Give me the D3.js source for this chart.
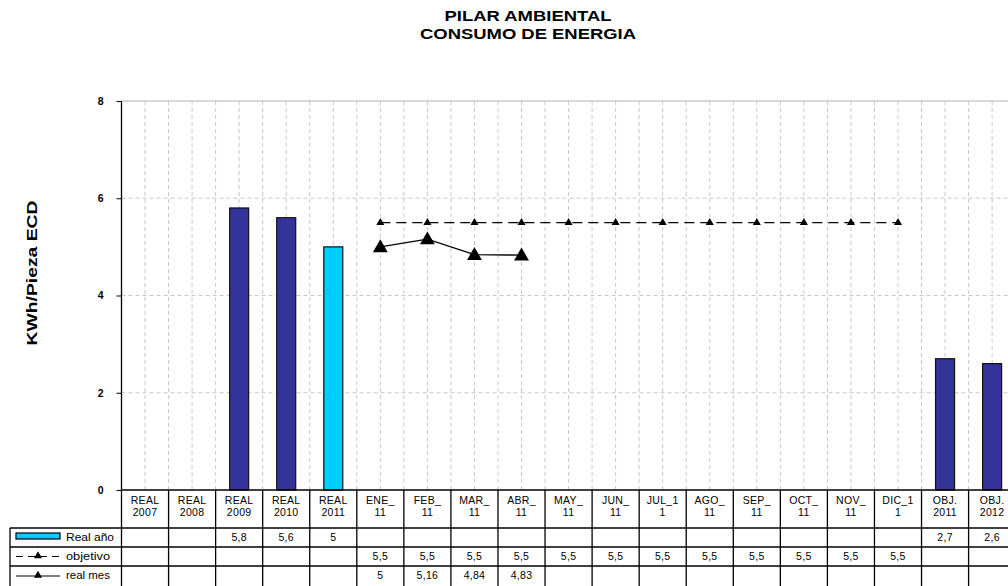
<!DOCTYPE html>
<html><head><meta charset="utf-8">
<script src="https://cdn.jsdelivr.net/npm/d3@7"></script>
<style>body{margin:0;background:#fff;} svg{display:block;font-family:"Liberation Sans",Arial,sans-serif;}</style>
</head><body>
<svg id="c" width="1008" height="586"></svg>
<script>
const categories = ["REAL 2007","REAL 2008","REAL 2009","REAL 2010","REAL 2011","ENE_ 11","FEB_ 11","MAR_ 11","ABR_ 11","MAY_ 11","JUN_ 11","JUL_1 1","AGO_ 11","SEP_ 11","OCT_ 11","NOV_ 11","DIC_1 1","OBJ. 2011","OBJ. 2012"];
const realAnio = [null,null,5.8,5.6,5,null,null,null,null,null,null,null,null,null,null,null,null,2.7,2.6];
const objetivo = [null,null,null,null,null,5.5,5.5,5.5,5.5,5.5,5.5,5.5,5.5,5.5,5.5,5.5,5.5,null,null];
const realMes = [null,null,null,null,null,5,5.16,4.84,4.83,null,null,null,null,null,null,null,null,null,null];
const yTicks = [0,2,4,6,8];
const title = ["PILAR AMBIENTAL","CONSUMO DE ENERGIA"];
const yLabel = "KWh/Pieza ECD";
const seriesNames = ["Real año","objetivo","real mes"];

const svg = d3.select("#c");
const L = 121.5, colW = 47.06, T = 101, B = 490;
const x = d3.scaleBand().domain(categories).range([L, L + colW*categories.length]).padding(0);
const y = d3.scaleLinear().domain([0,8]).range([B, T]);
const fmt = v => (v==null?"":String(+v.toFixed(2)).replace(".",","));
const barFill = i => categories[i]==="REAL 2011" ? "#00CCFF" : "#333399";

// title
const titleLen = [167, 216];
svg.selectAll("text.title").data(title).join("text").attr("class","title")
  .attr("x",528).attr("y",(d,i)=>21+i*18).attr("text-anchor","middle")
  .attr("font-size",14).attr("font-weight","bold")
  .attr("textLength",(d,i)=>titleLen[i]).attr("lengthAdjust","spacingAndGlyphs").text(d=>d);

// gridlines
const grid = svg.append("g");
grid.selectAll("line.h").data(yTicks.filter(d=>d>0&&d<8)).join("line")
  .attr("x1",L).attr("x2",1008).attr("y1",d=>y(d)).attr("y2",d=>y(d))
  .attr("stroke","#c8c8c8").attr("stroke-dasharray","4,3");
grid.append("line").attr("x1",L).attr("x2",1008).attr("y1",y(8)).attr("y2",y(8)).attr("stroke","#b0b0b0");
const vlines = [];
categories.forEach((c,i)=>{ vlines.push(x(c)+x.bandwidth()/2); if(i>0) vlines.push(x(c)); });
grid.selectAll("line.v").data(vlines).join("line")
  .attr("x1",d=>d).attr("x2",d=>d).attr("y1",T).attr("y2",B)
  .attr("stroke","#c8c8c8").attr("stroke-dasharray","4,3");

// bars
const bw = 19;
svg.append("g").selectAll("rect").data(realAnio.map((v,i)=>({v,i})).filter(d=>d.v!=null)).join("rect")
  .attr("x",d=>x(categories[d.i])+x.bandwidth()/2-bw/2).attr("width",bw)
  .attr("y",d=>y(d.v)).attr("height",d=>y(0)-y(d.v))
  .attr("fill",d=>barFill(d.i)).attr("stroke","#111").attr("stroke-width",1.2);

// lines
const cx = i => x(categories[i]) + x.bandwidth()/2;
const objPts = objetivo.map((v,i)=>({v,i})).filter(d=>d.v!=null);
const mesPts = realMes.map((v,i)=>({v,i})).filter(d=>d.v!=null);
const line = d3.line().x(d=>cx(d.i)).y(d=>y(d.v));
svg.append("path").attr("d",line(objPts)).attr("fill","none").attr("stroke","#000").attr("stroke-width",1.3).attr("stroke-dasharray","10,6");
svg.append("path").attr("d",line(mesPts)).attr("fill","none").attr("stroke","#000").attr("stroke-width",1.3);
const tri = d3.symbol().type(d3.symbolTriangle);
svg.append("g").selectAll("path").data(objPts).join("path")
  .attr("transform",d=>`translate(${cx(d.i)},${y(d.v)})`).attr("d",tri.size(28)()).attr("fill","#000");
svg.append("g").selectAll("path").data(mesPts).join("path")
  .attr("transform",d=>`translate(${cx(d.i)},${y(d.v)+1})`).attr("d",d3.symbol().type(d3.symbolTriangle).size(95)()).attr("fill","#000");

// y axis
const ax = svg.append("g").attr("transform",`translate(${L},0)`)
  .call(d3.axisLeft(y).tickValues(yTicks).tickSize(5).tickPadding(13));
ax.select(".domain").remove();
ax.selectAll("line").attr("stroke","#000");
ax.selectAll("text").attr("font-size",10.5).attr("font-weight","bold").attr("font-family","Liberation Sans, Arial, sans-serif");
svg.append("line").attr("x1",L).attr("x2",L).attr("y1",T).attr("y2",528).attr("stroke","#000").attr("stroke-width",1.3);
svg.append("text").attr("transform","translate(37,273) rotate(-90)").attr("text-anchor","middle")
  .attr("font-size",15).attr("font-weight","bold")
  .attr("textLength",145).attr("lengthAdjust","spacingAndGlyphs").text(yLabel);

// data table
const tb = svg.append("g");
const rowY = [490,528,547,566,586];
const R = 1008;
tb.append("line").attr("x1",L).attr("x2",R).attr("y1",490).attr("y2",490).attr("stroke","#000").attr("stroke-width",1.3);
[528,547,566].forEach(yy=>tb.append("line").attr("x1",10).attr("x2",R).attr("y1",yy).attr("y2",yy).attr("stroke","#000").attr("stroke-width",1.3));
tb.append("line").attr("x1",10).attr("x2",10).attr("y1",528).attr("y2",586).attr("stroke","#000").attr("stroke-width",1.3);
categories.forEach((c,i)=>{ if(i>0) tb.append("line").attr("x1",x(c)).attr("x2",x(c)).attr("y1",490).attr("y2",586).attr("stroke","#000").attr("stroke-width",1.3); });
tb.append("line").attr("x1",L).attr("x2",L).attr("y1",528).attr("y2",586).attr("stroke","#000").attr("stroke-width",1.3);
categories.forEach(c=>{
  const parts = c.split(" ");
  parts.forEach((p,j)=>tb.append("text").attr("x",x(c)+x.bandwidth()/2).attr("y",504+j*12)
    .attr("text-anchor","middle").attr("font-size",10.5).attr("letter-spacing",0.3).text(p));
});
const rows = [realAnio,objetivo,realMes];
rows.forEach((arr,r)=>{
  arr.forEach((v,i)=>{ if(v!=null) tb.append("text").attr("x",cx(i)).attr("y",rowY[r+1]+13)
    .attr("text-anchor","middle").attr("font-size",10.5).attr("letter-spacing",0.3).text(fmt(v)); });
});
tb.append("rect").attr("x",16).attr("y",533).attr("width",44).attr("height",6).attr("fill","#00CCFF").attr("stroke","#000").attr("stroke-width",1.2);
tb.append("line").attr("x1",16).attr("x2",60).attr("y1",556.5).attr("y2",556.5).attr("stroke","#000").attr("stroke-width",1.2).attr("stroke-dasharray","7,5");
tb.append("path").attr("transform","translate(38,556)").attr("d",d3.symbol().type(d3.symbolTriangle).size(28)()).attr("fill","#000");
tb.append("line").attr("x1",16).attr("x2",60).attr("y1",576).attr("y2",576).attr("stroke","#000").attr("stroke-width",1.2);
tb.append("path").attr("transform","translate(38,575.5)").attr("d",d3.symbol().type(d3.symbolTriangle).size(28)()).attr("fill","#000");
const legLen = [48, 44, 44];
seriesNames.forEach((s,i)=>tb.append("text").attr("x",66).attr("y",rowY[i+1]+13).attr("font-size",11)
  .attr("textLength",legLen[i]).attr("lengthAdjust","spacingAndGlyphs").text(s));
</script>
</body></html>
